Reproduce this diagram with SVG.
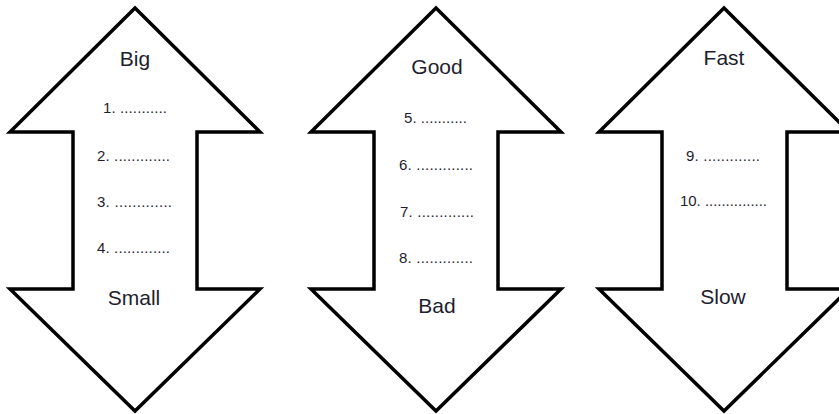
<svg xmlns="http://www.w3.org/2000/svg" width="839" height="414" viewBox="0 0 839 414">
<style>
.arrow{fill:#fff;stroke:#000;stroke-width:3.5;stroke-linejoin:miter;stroke-miterlimit:10}
.t{font-family:"Liberation Sans",Arial,sans-serif;font-size:21px;fill:#1e1e2e;text-anchor:middle}
.n{font-family:"Liberation Sans",Arial,sans-serif;font-size:15px;fill:#1e1e2e;text-anchor:middle}
</style>
<rect width="839" height="414" fill="#fff"/>
<g id="arrow-big-small">
<polygon class="arrow" points="135,8 10,132 73,132 73,289 10,289 135,411 260,289 197,289 197,132 260,132"/>
<text class="t" x="135" y="66">Big</text>
<text class="n" x="135" y="113" textLength="64" lengthAdjust="spacing">1. ...........</text>
<text class="n" x="133.5" y="161" textLength="73" lengthAdjust="spacing">2. .............</text>
<text class="n" x="134.5" y="207" textLength="75" lengthAdjust="spacing">3. .............</text>
<text class="n" x="133.5" y="253" textLength="73" lengthAdjust="spacing">4. .............</text>
<text class="t" x="134" y="305">Small</text>
</g>
<g id="arrow-good-bad">
<polygon class="arrow" points="436,8 311,132 374,132 374,289 311,289 436,411 561,289 498,289 498,132 561,132"/>
<text class="t" x="437" y="74">Good</text>
<text class="n" x="435.5" y="123" textLength="63" lengthAdjust="spacing">5. ...........</text>
<text class="n" x="436" y="170" textLength="74" lengthAdjust="spacing">6. .............</text>
<text class="n" x="437" y="217" textLength="74" lengthAdjust="spacing">7. .............</text>
<text class="n" x="436" y="263" textLength="74" lengthAdjust="spacing">8. .............</text>
<text class="t" x="437" y="313">Bad</text>
</g>
<g id="arrow-fast-slow">
<polygon class="arrow" points="724,8 599,132 662,132 662,289 599,289 724,411 849,289 787,289 787,132 849,132"/>
<text class="t" x="724" y="65">Fast</text>
<text class="n" x="723" y="161" textLength="74" lengthAdjust="spacing">9. .............</text>
<text class="n" x="723.5" y="206" textLength="87" lengthAdjust="spacing">10. ...............</text>
<text class="t" x="723" y="304">Slow</text>
</g>
<g id="connectors"/>
</svg>
